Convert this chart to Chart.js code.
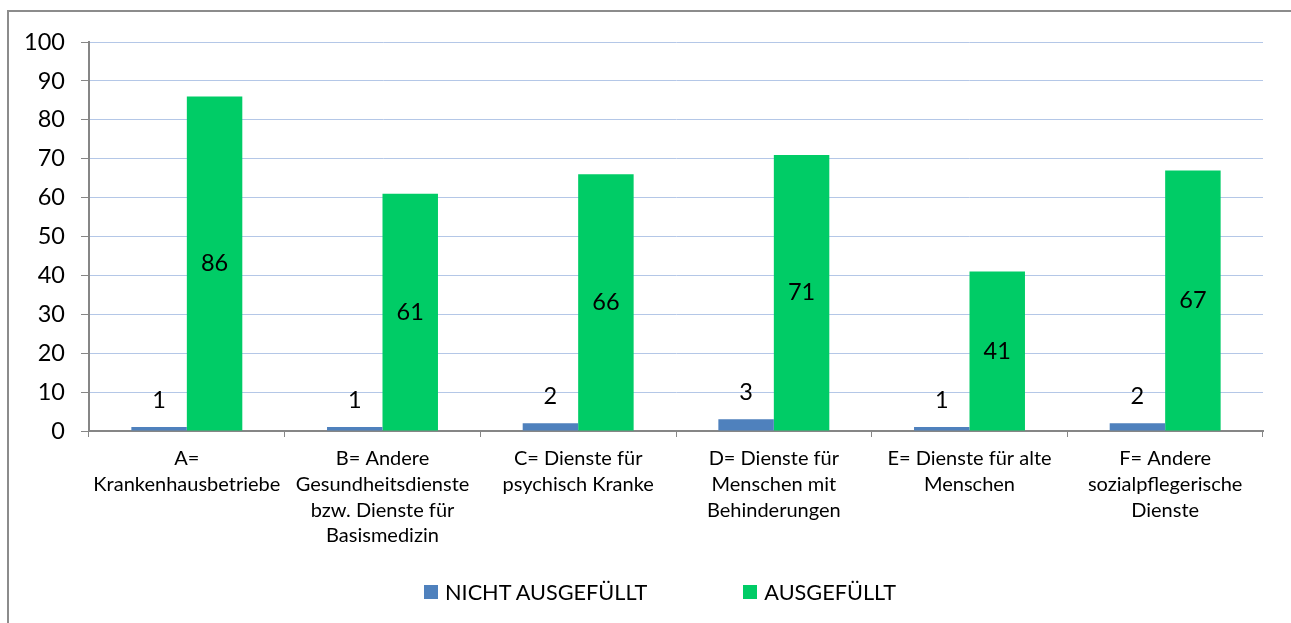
<!DOCTYPE html>
<html>
<head>
<meta charset="utf-8">
<script src="https://cdn.jsdelivr.net/npm/chart.js@4.4.1/dist/chart.umd.min.js"></script>
<style>
  html, body { margin: 0; padding: 0; background: #fff; overflow: hidden; }
  #frame { position: absolute; left: 7px; top: 10px; width: 1302px; height: 640px; border: 2px solid #8c8c8c; }
  canvas { display: block; }
  #legend { position: absolute; left: 0; top: 571px; width: 1302px; height: 18px;
            display: flex; justify-content: center; align-items: center; font-family: Lato; font-size: 21.7px; color: #000; }
  #legend .item { display: flex; align-items: center; white-space: nowrap; }
  #legend .item + .item { margin-left: 96px; }
  #legend .box { width: 14px; height: 14px; margin-right: 7px; }
</style>
</head>
<body>
<div id="frame"><canvas id="chart" width="1302" height="599"></canvas><div id="legend"></div></div>
<script>
// categories (one line per entry, as wrapped in the original)
const categories = [
  ['A=', 'Krankenhausbetriebe'],
  ['B= Andere', 'Gesundheitsdienste', 'bzw. Dienste für', 'Basismedizin'],
  ['C= Dienste für', 'psychisch Kranke'],
  ['D= Dienste für', 'Menschen mit', 'Behinderungen'],
  ['E= Dienste für alte', 'Menschen'],
  ['F= Andere', 'sozialpflegerische', 'Dienste']
];
const seriesNames = ['NICHT AUSGEFÜLLT', 'AUSGEFÜLLT'];
const nichtAusgefuellt = [1, 1, 2, 3, 1, 2];
const ausgefuellt = [86, 61, 66, 71, 41, 67];
const yMin = 0;
const yMax = 100;
const yStep = 10;

const BLUE = '#4f81bd';
const GREEN = '#00cc66';
const AXIS = '#868686';
const GRID = '#b4c7e7';

Chart.defaults.font.family = 'Lato';
Chart.defaults.color = '#000';

// value labels: inside green bars, above blue bars
const barLabels = {
  id: 'barLabels',
  afterDatasetsDraw(chart) {
    const ctx = chart.ctx;
    ctx.save();
    ctx.font = '23.5px Lato';
    ctx.fillStyle = '#000';
    ctx.textAlign = 'center';
    ctx.textBaseline = 'middle';
    chart.data.datasets.forEach((ds, i) => {
      chart.getDatasetMeta(i).data.forEach((bar, j) => {
        const y = i === 1 ? (bar.y + bar.base) / 2 : bar.y - 27;
        ctx.fillText(String(ds.data[j]), bar.x, y);
      });
    });
    ctx.restore();
  }
};

const chart = new Chart(document.getElementById('chart'), {
  type: 'bar',
  data: {
    labels: categories,
    datasets: [
      { label: seriesNames[0], data: nichtAusgefuellt, backgroundColor: BLUE, borderWidth: 0 },
      { label: seriesNames[1], data: ausgefuellt, backgroundColor: GREEN, borderWidth: 0 }
    ]
  },
  options: {
    responsive: false,
    animation: false,
    categoryPercentage: 0.567,
    barPercentage: 1,
    layout: { padding: { top: 28, left: 0, right: 48, bottom: 0 } },
    plugins: {
      tooltip: { enabled: false },
      legend: { display: false }
    },
    scales: {
      x: {
        grid: { offset: true, drawOnChartArea: false, drawTicks: true, tickLength: 6, color: AXIS, lineWidth: 1 },
        border: { color: AXIS, width: 2 },
        ticks: { autoSkip: false, maxRotation: 0, padding: 9, font: { size: 20, lineHeight: 1.285 }, color: '#000' },
        afterFit(scale) { scale.height = 180; }
      },
      y: {
        min: yMin,
        max: yMax,
        grid: { color: GRID, lineWidth: 1, tickLength: 8, tickColor: AXIS },
        border: { color: AXIS, width: 2 },
        ticks: { stepSize: yStep, padding: 16, font: { size: 23.5 }, color: '#000' },
        afterFit(scale) { scale.width = 80; }
      }
    }
  },
  plugins: [barLabels]
});

// legend built from the chart's datasets
const legend = document.getElementById('legend');
chart.data.datasets.forEach(ds => {
  const item = document.createElement('div');
  item.className = 'item';
  const box = document.createElement('span');
  box.className = 'box';
  box.style.background = ds.backgroundColor;
  item.appendChild(box);
  item.appendChild(document.createTextNode(ds.label));
  legend.appendChild(item);
});
</script>
</body>
</html>
